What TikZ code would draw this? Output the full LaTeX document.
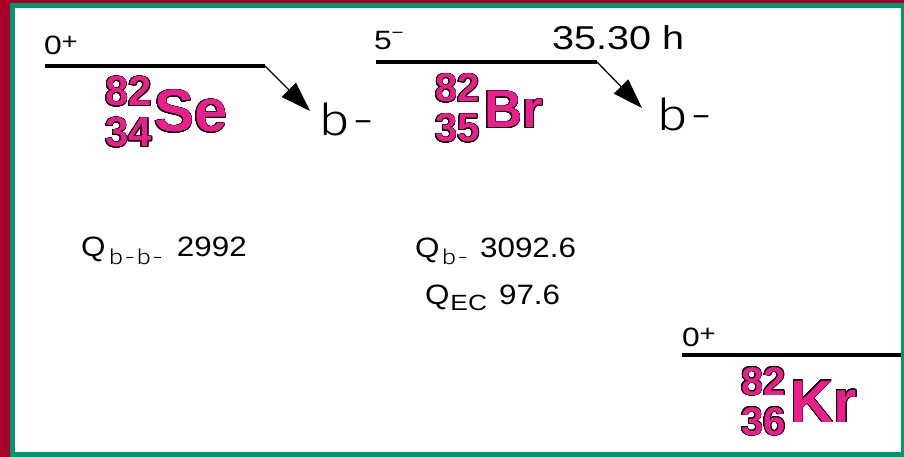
\documentclass[tikz,border=0pt]{standalone}
\usepackage{fontspec}
\usepackage{contour}
\usetikzlibrary{arrows.meta}
\setmainfont{Liberation Sans}
\newfontfamily\lvlfont{Liberation Sans}[FakeStretch=1.2]
\newfontfamily\qfont{Liberation Sans}[FakeStretch=1.12]
\newfontfamily\bfont{Fira Sans Light}[FakeStretch=1.25]
\newfontfamily\nucfont{Liberation Sans}
\definecolor{bgred}{RGB}{166,0,42}
\definecolor{framegreen}{RGB}{0,150,112}
\definecolor{nucpink}{RGB}{236,30,140}
\contourlength{0.8pt}
\contournumber{24}
\newcommand{\nucout}[1]{\textcolor{nucpink}{\contour{black}{#1}}}
\tikzset{
  lvl/.style={line width=4pt, line cap=butt},
  decay/.style={line width=1.3pt, -{Triangle[length=30pt,width=20pt]}},
  txt/.style={inner sep=0pt, outer sep=0pt, anchor=base west},
  spinlbl/.style={txt, font=\lvlfont\fontsize{26.5}{26.5}\selectfont},
  blbl/.style={txt, font=\bfont\fontsize{44}{44}\selectfont},
  qlbl/.style={txt, font=\qfont\fontsize{28}{28}\selectfont},
  nucnum/.style={txt, font=\nucfont\bfseries\fontsize{#1}{#1}\selectfont},
  nucsym/.style={txt, font=\nucfont\bfseries\fontsize{#1}{#1}\selectfont},
}
\begin{document}
\begin{tikzpicture}[x=1pt,y=-1pt]
\useasboundingbox (0,0) rectangle (904,457);
\fill[bgred] (0,0) rectangle (904,457);
\fill[framegreen] (10,3) rectangle (904,457);
\fill[white] (15,8) rectangle (901,452);

% Se-82
\coordinate (se-l) at (45,66);
\coordinate (se-r) at (265,66);
\coordinate (se-tip) at (310,111);
\draw[lvl] (se-l) -- (se-r);
\draw[decay] (se-r) -- (se-tip);
\node[spinlbl] (se-spin) at (44,55) {0\raisebox{5pt}{\fontsize{23}{23}\selectfont +}};
\node[blbl] (se-b) at (318,136) {b\hspace{3pt}-};
\node[nucnum=42] (se-a) at (105,106) {\nucout{82}};
\node[nucnum=42] (se-z) at (105,147) {\nucout{34}};
\node[nucsym=60] (se-sym) at (154,132) {\nucout{Se}};

% Br-82
\coordinate (br-l) at (376,62);
\coordinate (br-r) at (597,62);
\coordinate (br-tip) at (642,108);
\draw[lvl] (br-l) -- (br-r);
\draw[decay] (br-r) -- (br-tip);
\node[spinlbl] (br-spin) at (374,50) {5\raisebox{11pt}{\fontsize{17}{17}\selectfont −}};
\node[txt, font=\lvlfont\fontsize{33}{33}\selectfont] (br-hl) at (552,50) {35.30 h};
\node[blbl] (br-b) at (656,131) {b\hspace{3pt}-};
\node[nucnum=40] (br-a) at (435,102) {\nucout{82}};
\node[nucnum=40] (br-z) at (435,142) {\nucout{35}};
\node[nucsym=53] (br-sym) at (484,128) {\nucout{Br}};

% Kr-82
\coordinate (kr-l) at (682,355);
\coordinate (kr-r) at (901,355);
\draw[lvl] (kr-l) -- (kr-r);
\node[spinlbl] (kr-spin) at (682,346) {0\raisebox{5pt}{\fontsize{23}{23}\selectfont +}};
\node[nucnum=40] (kr-a) at (741,395) {\nucout{82}};
\node[nucnum=40] (kr-z) at (741,435) {\nucout{36}};
\node[nucsym=60] (kr-sym) at (790,422) {\nucout{Kr}};

% Q values
\node[qlbl] (q-bb) at (81,256) {Q\hspace{3pt}\raisebox{-8pt}{\bfont\fontsize{21}{21}\selectfont b\hspace{1pt}-\hspace{1pt}b\hspace{1pt}-}\hspace{14pt}2992};
\node[qlbl] (q-b) at (415,257) {Q\hspace{2pt}\raisebox{-7pt}{\bfont\fontsize{21}{21}\selectfont b\hspace{1pt}-}\hspace{12pt}3092.6};
\node[qlbl] (q-ec) at (425,304) {Q\hspace{1pt}\raisebox{-6pt}{\lvlfont\fontsize{22}{22}\selectfont EC}\hspace{12pt}97.6};
\end{tikzpicture}
\end{document}
